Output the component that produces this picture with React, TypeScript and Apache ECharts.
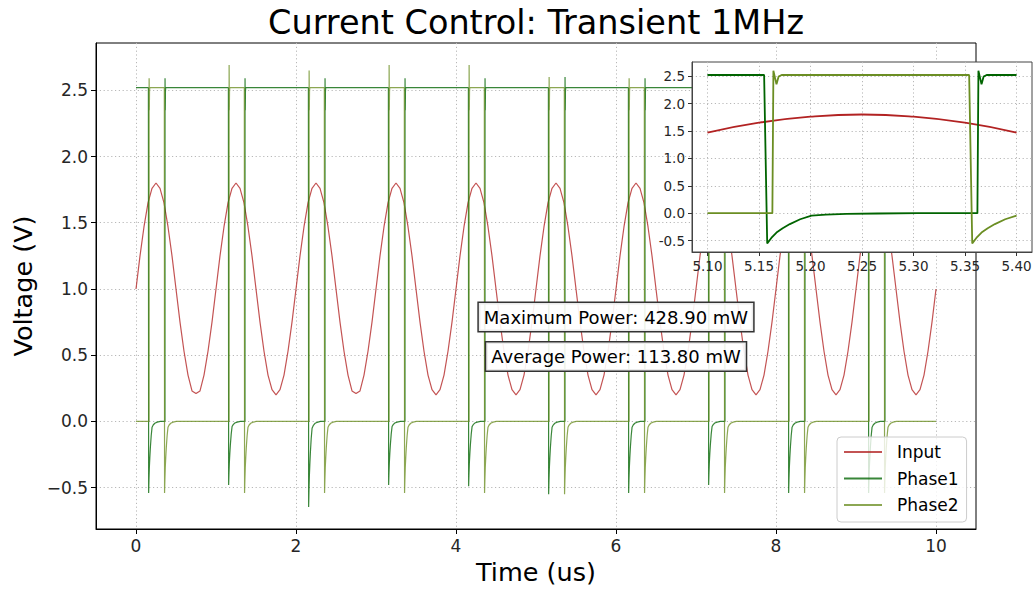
import React, { useEffect, useRef } from "react";
import * as echarts from "echarts";

// ---- data ----------------------------------------------------------------

// Input signal, sampled every 0.05 us from 0 to 10 us
const inputStep = 0.05;
const inputValues = [
  1.0, 1.25, 1.47, 1.65, 1.76, 1.8, 1.76, 1.65, 1.47, 1.25, 1.0, 0.75, 0.53, 0.35, 0.23, 0.21, 0.23, 0.35, 0.53, 0.75,
  1.0, 1.25, 1.47, 1.65, 1.76, 1.8, 1.76, 1.65, 1.47, 1.25, 1.0, 0.75, 0.53, 0.35, 0.24, 0.2, 0.24, 0.35, 0.53, 0.75,
  1.0, 1.25, 1.47, 1.65, 1.76, 1.8, 1.76, 1.65, 1.47, 1.25, 1.0, 0.75, 0.53, 0.35, 0.23, 0.21, 0.23, 0.35, 0.53, 0.75,
  1.0, 1.25, 1.47, 1.65, 1.76, 1.8, 1.76, 1.65, 1.47, 1.25, 1.0, 0.75, 0.53, 0.35, 0.24, 0.2, 0.24, 0.35, 0.53, 0.75,
  1.0, 1.25, 1.47, 1.65, 1.76, 1.8, 1.76, 1.65, 1.47, 1.25, 1.0, 0.75, 0.53, 0.35, 0.24, 0.2, 0.24, 0.35, 0.53, 0.75,
  1.0, 1.25, 1.47, 1.65, 1.76, 1.8, 1.76, 1.65, 1.47, 1.25, 1.0, 0.75, 0.53, 0.35, 0.24, 0.2, 0.24, 0.35, 0.53, 0.75,
  1.0, 1.25, 1.47, 1.65, 1.76, 1.8, 1.76, 1.65, 1.47, 1.25, 1.0, 0.75, 0.53, 0.35, 0.24, 0.2, 0.24, 0.35, 0.53, 0.75,
  1.0, 1.25, 1.47, 1.65, 1.76, 1.8, 1.76, 1.65, 1.47, 1.25, 1.0, 0.75, 0.53, 0.35, 0.24, 0.2, 0.24, 0.35, 0.53, 0.75,
  1.0, 1.25, 1.47, 1.65, 1.76, 1.8, 1.76, 1.65, 1.47, 1.25, 1.0, 0.75, 0.53, 0.35, 0.24, 0.2, 0.24, 0.35, 0.53, 0.75,
  1.0, 1.25, 1.47, 1.65, 1.76, 1.8, 1.76, 1.65, 1.47, 1.25, 1.0, 0.75, 0.53, 0.35, 0.24, 0.2, 0.24, 0.35, 0.53, 0.75,
  1.0,
];

// Gate drive levels (V)
const highLevel = 2.52;
const lowLevel = 0;

// Switching instants per cycle (us)
const phase1Fall = [0.155, 1.155, 2.155, 3.155, 4.155, 5.155, 6.155, 7.155, 8.155, 9.155];
const phase2Rise = [0.163, 1.163, 2.163, 3.163, 4.163, 5.163, 6.163, 7.163, 8.163, 9.163];
const phase2Fall = [0.354, 1.354, 2.354, 3.354, 4.354, 5.354, 6.354, 7.354, 8.354, 9.354];
const phase1Rise = [0.362, 1.362, 2.362, 3.362, 4.362, 5.362, 6.362, 7.362, 8.362, 9.362];

// Undershoot after each falling edge and overshoot after each rising edge (V)
const phase1Dip = [-0.54, -0.48, -0.645, -0.48, -0.49, -0.55, -0.54, -0.48, -0.54, -0.54];
const phase2Dip = [-0.54, -0.54, -0.54, -0.54, -0.54, -0.55, -0.54, -0.54, -0.54, -0.54];
const phase1Peak = [2.59, 2.59, 2.59, 2.59, 2.59, 2.6, 2.59, 2.59, 2.59, 2.59];
const phase2Peak = [2.59, 2.69, 2.65, 2.69, 2.69, 2.6, 2.59, 2.6, 2.6, 2.6];

// Recovery of the undershoot: time after the edge (us) and remaining fraction
const recoveryDt = [0.003, 0.007, 0.012, 0.018, 0.025, 0.035, 0.046, 0.06, 0.08, 0.11, 0.15];
const recoveryFrac = [1, 0.82, 0.64, 0.5, 0.36, 0.2, 0.08, 0.05, 0.025, 0.01, 0];

// Ringing after a rising edge: time after the edge (us) and level (V)
const ringDt = [0.004, 0.006, 0.009];
const ringLevel = [2.35, 2.49, 2.52];
const peakDt = 0.001;

const maxPower = 428.9;
const avgPower = 113.8;

const xTicks = [0, 2, 4, 6, 8, 10];
const yTicks = [-0.5, 0, 0.5, 1, 1.5, 2, 2.5];
const insetXTicks = [5.1, 5.15, 5.2, 5.25, 5.3, 5.35, 5.4];
const insetYTicks = [-0.5, 0, 0.5, 1, 1.5, 2, 2.5];
const insetRange = [5.1, 5.4];

// ---- waveform assembly ---------------------------------------------------

type Pt = [number, number];

const inputPoints: Pt[] = inputValues.map((v, i) => [i * inputStep, v]);

function fallEdge(out: Pt[], t: number, dip: number) {
  out.push([t, highLevel]);
  recoveryDt.forEach((dt, i) => out.push([t + dt, dip * recoveryFrac[i]]));
}

function riseEdge(out: Pt[], t: number, peak: number) {
  out.push([t, lowLevel]);
  out.push([t + peakDt, peak]);
  ringDt.forEach((dt, i) => out.push([t + dt, ringLevel[i]]));
}

const phase1Points: Pt[] = [[0, highLevel]];
phase1Fall.forEach((tf, k) => {
  fallEdge(phase1Points, tf, phase1Dip[k]);
  riseEdge(phase1Points, phase1Rise[k], phase1Peak[k]);
});
phase1Points.push([10, highLevel]);

const phase2Points: Pt[] = [[0, lowLevel]];
phase2Rise.forEach((tr, k) => {
  riseEdge(phase2Points, tr, phase2Peak[k]);
  fallEdge(phase2Points, phase2Fall[k], phase2Dip[k]);
});
phase2Points.push([10, lowLevel]);

// Window of samples for the zoomed view; the ends hold the last sampled level
function windowOf(points: Pt[], lo: number, hi: number): Pt[] {
  const eps = 1e-9;
  const held = (t: number) => {
    let v = points[0][1];
    for (const p of points) {
      if (p[0] <= t + eps) v = p[1];
      else break;
    }
    return v;
  };
  const inside = points.filter((p) => p[0] >= lo - eps && p[0] <= hi + eps);
  const res: Pt[] = [];
  if (!inside.length || inside[0][0] > lo + eps) res.push([lo, held(lo)]);
  res.push(...inside);
  if (res[res.length - 1][0] < hi - eps) res.push([hi, held(hi)]);
  return res;
}

// ---- styling -------------------------------------------------------------

const font = "DejaVu Sans";
const inputColor = "#b22222";
const phase1Color = "#006400";
const phase2Color = "#6b8e23";
const fade = (hex: string, a: number) => {
  const n = parseInt(hex.slice(1), 16);
  return `rgba(${(n >> 16) & 255},${(n >> 8) & 255},${n & 255},${a})`;
};

const dotted = { color: "#b8b8b8", width: 1, type: [1.2, 2.6] as number[] };
const minusFmt = (v: number) => (v < 0 ? "\u2212" : "") + Math.abs(v).toFixed(1);

function buildOption(): echarts.EChartsOption {
  const mainLine = (name: string, data: Pt[], color: string) => ({
    type: "line" as const,
    name,
    xAxisIndex: 0,
    yAxisIndex: 0,
    data,
    showSymbol: false,
    symbol: "none",
    z: 3,
    color: fade(color, 0.78),
    lineStyle: { width: 1.2, color: fade(color, 0.78) },
  });
  const insetLine = (name: string, data: Pt[], color: string, smooth = false) => ({
    type: "line" as const,
    name,
    xAxisIndex: 1,
    yAxisIndex: 1,
    data,
    showSymbol: false,
    symbol: "none",
    smooth,
    z: 12,
    color,
    lineStyle: { width: 1.8, color },
  });

  return {
    animation: false,
    textStyle: { fontFamily: font },
    grid: [
      {
        left: 96,
        top: 43,
        width: 880,
        height: 486,
        show: true,
        borderColor: "#000",
        borderWidth: 1,
        backgroundColor: "transparent",
      },
      {
        left: 692,
        top: 62,
        width: 340,
        height: 190,
        show: true,
        borderColor: "#444",
        borderWidth: 1,
        backgroundColor: "#fff",
        z: 10,
      },
    ],
    xAxis: [
      {
        gridIndex: 0,
        type: "value",
        min: -0.5,
        max: 10.5,
        name: "Time (us)",
        nameLocation: "middle",
        nameGap: 29,
        nameTextStyle: { fontSize: 25.5, color: "#000", fontFamily: font },
        axisLine: { show: true, onZero: false, lineStyle: { color: "#000", width: 1 } },
        axisTick: { show: true, length: 5, lineStyle: { color: "#000" }, customValues: xTicks },
        axisLabel: { customValues: xTicks, fontSize: 17, color: "#262626", margin: 8, formatter: (v: number) => String(v) },
        splitLine: { show: true, lineStyle: dotted },
      },
      {
        gridIndex: 1,
        type: "value",
        min: 5.085,
        max: 5.415,
        z: 11,
        axisLine: { show: true, onZero: false, lineStyle: { color: "#444", width: 1 } },
        axisTick: { show: true, length: 4, lineStyle: { color: "#333" }, customValues: insetXTicks },
        axisLabel: { customValues: insetXTicks, fontSize: 13.5, color: "#262626", margin: 7, formatter: (v: number) => v.toFixed(2) },
        splitLine: { show: true, lineStyle: dotted },
      },
    ],
    yAxis: [
      {
        gridIndex: 0,
        type: "value",
        min: -0.812,
        max: 2.857,
        name: "Voltage (V)",
        nameLocation: "middle",
        nameGap: 56,
        nameTextStyle: { fontSize: 25.5, color: "#000", fontFamily: font },
        axisLine: { show: true, onZero: false, lineStyle: { color: "#000", width: 1 } },
        axisTick: { show: true, length: 5, lineStyle: { color: "#000" }, customValues: yTicks },
        axisLabel: { customValues: yTicks, fontSize: 17, color: "#262626", margin: 8, formatter: minusFmt },
        splitLine: { show: true, lineStyle: dotted },
      },
      {
        gridIndex: 1,
        type: "value",
        min: -0.7075,
        max: 2.7575,
        z: 11,
        axisLine: { show: true, onZero: false, lineStyle: { color: "#444", width: 1 } },
        axisTick: { show: true, length: 4, lineStyle: { color: "#333" }, customValues: insetYTicks },
        axisLabel: { customValues: insetYTicks, fontSize: 13.5, color: "#262626", margin: 7, formatter: (v: number) => v.toFixed(1) },
        splitLine: { show: true, lineStyle: dotted },
      },
    ],
    legend: {
      data: ["Input", "Phase1", "Phase2"],
      orient: "vertical",
      left: 837,
      top: 437,
      icon: "rect",
      itemWidth: 38,
      itemHeight: 2,
      itemGap: 6.5,
      padding: [5, 8, 7, 7],
      backgroundColor: "rgba(255,255,255,0.8)",
      borderColor: "#cccccc",
      borderWidth: 1,
      borderRadius: 4,
      selectedMode: false,
      z: 20,
      textStyle: { fontSize: 17, color: "#000", lineHeight: 20, fontFamily: font, padding: [0, 0, 0, 10] },
    },
    graphic: [
      {
        type: "text",
        x: 536,
        y: 22,
        z: 50,
        style: {
          text: "Current Control: Transient 1MHz",
          fontSize: 33.5,
          fontFamily: font,
          fill: "#000",
          align: "center",
          verticalAlign: "middle",
          textAlign: "center",
          textVerticalAlign: "middle",
        } as any,
      },
      {
        type: "text",
        x: 616,
        y: 317,
        z: 50,
        style: {
          text: `Maximum Power: ${maxPower.toFixed(2)} mW`,
          fontSize: 18,
          fontFamily: font,
          fill: "#000",
          align: "center",
          verticalAlign: "middle",
          textAlign: "center",
          textVerticalAlign: "middle",
          backgroundColor: "rgba(255,255,255,0.9)",
          borderColor: "#333",
          borderWidth: 1.5,
          padding: [5, 5],
        } as any,
      },
      {
        type: "text",
        x: 616,
        y: 356.5,
        z: 50,
        style: {
          text: `Average Power: ${avgPower.toFixed(2)} mW`,
          fontSize: 18,
          fontFamily: font,
          fill: "#000",
          align: "center",
          verticalAlign: "middle",
          textAlign: "center",
          textVerticalAlign: "middle",
          backgroundColor: "rgba(255,255,255,0.9)",
          borderColor: "#333",
          borderWidth: 1.5,
          padding: [5, 5],
        } as any,
      },
    ],
    series: [
      mainLine("Input", inputPoints, inputColor),
      mainLine("Phase1", phase1Points, phase1Color),
      mainLine("Phase2", phase2Points, phase2Color),
      insetLine("Input", windowOf(inputPoints, insetRange[0], insetRange[1]), inputColor, true),
      insetLine("Phase1", windowOf(phase1Points, insetRange[0], insetRange[1]), phase1Color),
      insetLine("Phase2", windowOf(phase2Points, insetRange[0], insetRange[1]), phase2Color),
    ] as any,
  };
}

export default function App() {
  const ref = useRef<HTMLDivElement>(null);
  useEffect(() => {
    document.body.style.margin = "0";
    const chart = echarts.init(ref.current!, null, { renderer: "svg" });
    chart.setOption(buildOption());
    return () => chart.dispose();
  }, []);
  return (
    <div
      ref={ref}
      style={{ position: "absolute", left: 0, top: 0, width: 1035, height: 592, background: "#fff" }}
    />
  );
}
